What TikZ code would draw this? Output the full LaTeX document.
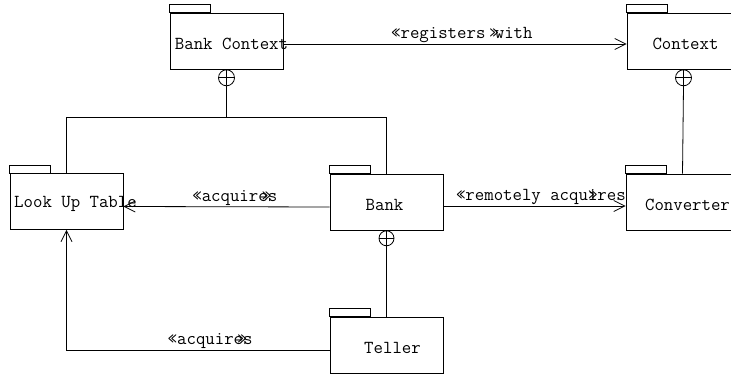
\documentclass[tikz,border=0pt]{standalone}
\usetikzlibrary{positioning, arrows.meta}

\begin{document}
\begin{tikzpicture}[
    x=1pt, y=-1pt,
    font=\ttfamily\fontsize{18.3}{21}\selectfont,
    pkg/.style={rectangle, draw, line width=0.8pt, minimum width=113pt, minimum height=56pt, inner sep=0pt},
    pkgtext/.style={inner sep=0pt, yshift=-2.5pt},
    nest/.style={circle, draw, line width=0.8pt, minimum size=16pt, inner sep=0pt,
        path picture={\draw (path picture bounding box.north) -- (path picture bounding box.south)
                            (path picture bounding box.west) -- (path picture bounding box.east);}},
    link/.style={line width=0.8pt},
    dep/.style={line width=0.8pt, -{Straight Barb[length=11pt, width=11pt]}},
    stereo/.style={above, inner sep=1pt}
]
\useasboundingbox (0,0) rectangle (731,374);

% Packages
\node[pkg, label={[pkgtext, xshift=5pt]center:Bank Context}] (bankctx) at (226.5,41) {};
\node[pkg, label={[pkgtext, xshift=2pt]center:Context}] (ctx) at (683.5,41) {};
\node[pkg, label={[pkgtext, xshift=9pt]center:Look Up Table}] (lut) at (66.5,201.5) {};
\node[pkg, label={[pkgtext, xshift=-2pt]center:Bank}] (bank) at (386.5,202) {};
\node[pkg, label={[pkgtext, xshift=5pt]center:Converter}] (conv) at (682.5,202) {};
\node[pkg, label={[pkgtext, xshift=6pt]center:Teller}] (teller) at (386.5,345) {};

% Tabs
\foreach \p in {bankctx, ctx, lut, bank, conv, teller}
    \draw[line width=0.8pt] (\p.north west) rectangle ++(41,-8);

% Nesting
\node[nest, below=0pt of bankctx] (nbankctx) {};
\node[nest, below=0pt of ctx] (nctx) {};
\node[nest, below=0pt of bank, minimum size=15pt] (nbank) {};
\coordinate (hub) at (226.5,117);

\draw[link] (nbankctx.south) -- (hub);
\draw[link] (lut.north) |- (bank.north |- hub) -- (bank.north);
\draw[link] (nctx.south) -- (conv.north);
\draw[link] (nbank.south) -- (teller.north);

% Dependencies
\draw[dep] ([yshift=-3pt]bankctx.east) -- node[stereo, pos=0.52] {«registers \rlap{\kern-0.3em»}with} ([yshift=-3pt]ctx.west);
\draw[dep] ([yshift=-5pt]bank.west) -- node[stereo, pos=0.46] {«acquir\rlap{\kern0.2em»}es} ([yshift=-5pt]lut.east);
\draw[dep] ([yshift=-4pt]bank.east) -- node[stereo, pos=0.535] {«remotely acqu\rlap{»}ires} ([yshift=-4pt]conv.west);
\draw[dep] ([yshift=-5pt]teller.west) -| node[stereo, pos=0.227] {«acquir\rlap{\kern0.2em»}es} (lut.south);

\end{tikzpicture}
\end{document}
